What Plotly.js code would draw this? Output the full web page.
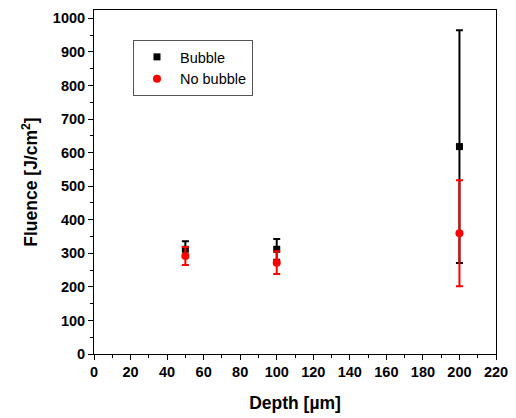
<!DOCTYPE html>
<html><head><meta charset="utf-8">
<script src="https://cdn.plot.ly/plotly-3.0.1.min.js"></script>
<style>html,body{margin:0;padding:0;background:#fff}#chart{width:516px;height:418px}</style>
</head><body><div id="chart"></div>
<script>
const depth = [50, 100, 200];
const bubbleY = [312, 312, 618];
const bubbleErr = [24, 31, 347];
const noBubbleY = [292, 272, 360];
const noBubbleErr = [27, 34, 158];

const fam = '"Liberation Sans", Arial, sans-serif';
const traces = [
  {x: depth, y: bubbleY, name: 'Bubble', type: 'scatter', mode: 'markers',
   marker: {symbol: 'square', size: 7, color: '#000'},
   error_y: {type: 'data', array: bubbleErr, visible: true, color: '#000', thickness: 2, width: 3.5}},
  {x: depth, y: noBubbleY, name: 'No bubble', type: 'scatter', mode: 'markers',
   marker: {symbol: 'circle', size: 8, color: '#ff0000'},
   error_y: {type: 'data', array: noBubbleErr, visible: true, color: '#ff0000', thickness: 2, width: 3.5}}
];
const axisCommon = {
  showline: true, linecolor: '#000', linewidth: 1, mirror: true,
  ticks: 'outside', ticklen: 5, tickwidth: 1, tickcolor: '#000',
  showgrid: false, zeroline: false,
  tickfont: {family: fam, size: 14.5, color: '#000', weight: 'bold'},
  minor: {ticks: 'outside', ticklen: 3, tickwidth: 1, tickcolor: '#000', showgrid: false}
};
const layout = {
  width: 516, height: 418,
  margin: {l: 94, r: 20, t: 10, b: 64},
  paper_bgcolor: '#fff', plot_bgcolor: '#fff',
  font: {family: fam, size: 14, color: '#000'},
  showlegend: true,
  legend: {x: 0.097, y: 0.913, xanchor: 'left', yanchor: 'top',
    bordercolor: '#555', borderwidth: 1, bgcolor: '#fff',
    font: {family: fam, size: 14.5, color: '#000'}, itemwidth: 36, tracegroupgap: 0},
  xaxis: Object.assign({}, axisCommon, {
    range: [0, 220], tick0: 0, dtick: 20, minor: Object.assign({}, axisCommon.minor, {dtick: 10}),
    title: {text: 'Depth [µm]', font: {family: fam, size: 17.5, color: '#000', weight: 'bold'}, standoff: 17}
  }),
  yaxis: Object.assign({}, axisCommon, {
    range: [0, 1025], tick0: 0, dtick: 100, minor: Object.assign({}, axisCommon.minor, {dtick: 50}),
    title: {text: 'Fluence [J/cm<sup>2</sup>]', font: {family: fam, size: 17.5, color: '#000', weight: 'bold'}, standoff: 10}
  })
};
Plotly.newPlot('chart', traces, layout, {displayModeBar: false, staticPlot: true});
</script></body></html>
